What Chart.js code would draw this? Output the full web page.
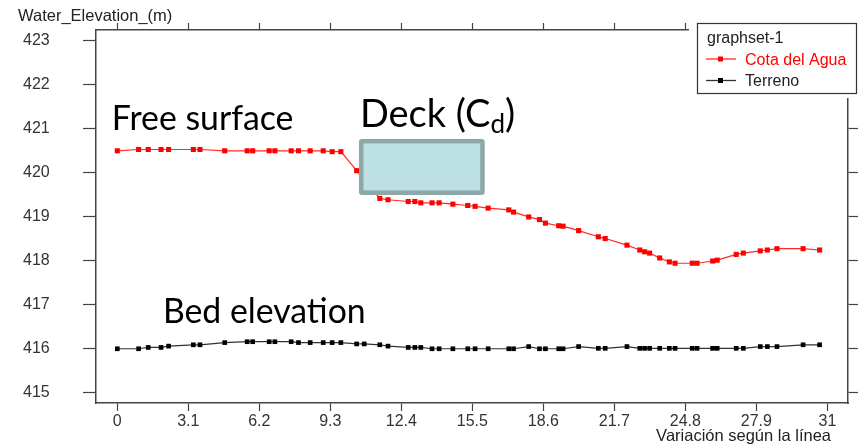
<!DOCTYPE html>
<html>
<head>
<meta charset="utf-8">
<script src="https://cdn.jsdelivr.net/npm/chart.js@4"></script>
<style>
  html, body { margin: 0; padding: 0; background: #fff; }
  canvas { display: block; }
</style>
</head>
<body>
<canvas id="chart" width="858" height="446"></canvas>
<script>
// distance along the line (m)
const stations = [0, 0.93, 1.35, 1.91, 2.24, 3.32, 3.61, 4.69, 5.67, 5.91, 6.63, 6.88, 7.59, 7.91, 8.42, 8.99, 9.38, 9.76,
  10.45, 10.78, 11.46, 11.82, 12.7, 12.99, 13.25, 13.74, 14.05, 14.65, 15.3, 15.62, 16.19, 17.09, 17.3, 17.96, 18.43, 18.69,
  19.27, 19.46, 20.14, 21.0, 21.3, 22.25, 22.81, 23.02, 23.24, 23.68, 24.1, 24.35, 25.1, 25.31, 25.99, 26.19, 27.02, 27.33,
  28.07, 28.38, 28.8, 29.94, 30.66];

// water surface (null = hidden under the deck)
const cotaAgua = [420.49, 420.52, 420.52, 420.52, 420.52, 420.52, 420.52, 420.49, 420.49, 420.49, 420.49, 420.49, 420.49, 420.49, 420.49, 420.49, 420.47, 420.47,
  420.04, null, 419.41, 419.38, 419.34, 419.34, 419.31, 419.31, 419.31, 419.28, 419.25, 419.23, 419.19, 419.15, 419.10, 418.99, 418.93, 418.85,
  418.79, 418.78, 418.68, 418.54, 418.50, 418.35, 418.24, 418.20, 418.17, 418.06, 417.97, 417.94, 417.94, 417.94, 417.99, 418.01, 418.14, 418.17,
  418.22, 418.24, 418.27, 418.27, 418.24];

// bed
const terreno = [416.00, 416.00, 416.03, 416.03, 416.06, 416.09, 416.09, 416.14, 416.16, 416.16, 416.16, 416.16, 416.16, 416.14, 416.14, 416.14, 416.14, 416.14,
  416.11, 416.11, 416.09, 416.06, 416.03, 416.03, 416.03, 416.00, 416.00, 416.00, 416.00, 416.00, 416.00, 416.00, 416.00, 416.05, 416.00, 416.00,
  416.00, 416.00, 416.05, 416.01, 416.01, 416.05, 416.01, 416.01, 416.01, 416.01, 416.01, 416.01, 416.01, 416.01, 416.01, 416.01, 416.01, 416.01,
  416.05, 416.05, 416.05, 416.09, 416.09];

const xTicks = [0, 3.1, 6.2, 9.3, 12.4, 15.5, 18.6, 21.7, 24.8, 27.9, 31];
const yTicks = [415, 416, 417, 418, 419, 420, 421, 422, 423];

const legendTitle = "graphset-1";
const yTitle = "Water_Elevation_(m)";
const xTitle = "Variación según la línea";

// labels drawn on the plot, in data units
const notes = [
  { text: "Free surface", x: -0.24, y: 420.96 },
  { text: "Bed elevation", x: 1.99, y: 416.59 },
];
const deckLabel = { text: "Deck (C", sub: "d", after: ")", x: 10.59, y: 421.04 };
const deck = { x0: 10.55, x1: 16.04, top: 420.76, bottom: 419.49 };

const tickFont = { family: "Liberation Sans, Arial, sans-serif", size: 16 };
const frameColor = "#444";

function toPoints(values) {
  return stations.map((s, i) => ({ x: s, y: values[i] }));
}

// one side of the box frame
function frameAxis(axis, position, tickLength, size, showLabels, ticks) {
  return {
    type: "linear",
    axis: axis,
    position: position,
    min: axis === "x" ? -0.93 : 414.77,
    max: axis === "x" ? 31.9 : 423.23,
    afterBuildTicks: a => { a.ticks = ticks.map(v => ({ value: v })); },
    afterFit: a => { if (axis === "x") a.height = size; else a.width = size; },
    grid: { drawOnChartArea: false, drawTicks: true, tickLength: tickLength, color: frameColor, tickWidth: 1.2 },
    border: { display: true, color: frameColor, width: 1.5 },
    ticks: {
      display: showLabels,
      font: tickFont,
      color: "#333",
      padding: 1,
      crossAlign: axis === "y" ? "far" : "near",
      autoSkip: false,
      maxRotation: 0,
      callback: v => String(v),
    },
  };
}

const overlay = {
  id: "overlay",
  afterDatasetsDraw(chart) {
    const c = chart.ctx, xs = chart.scales.x, ys = chart.scales.y;
    const l = xs.getPixelForValue(deck.x0), r = xs.getPixelForValue(deck.x1);
    const t = ys.getPixelForValue(deck.top), b = ys.getPixelForValue(deck.bottom);
    c.save();
    c.fillStyle = "#8ea8a9";
    c.beginPath();
    c.roundRect(l, t, r - l, b - t, 3);
    c.fill();
    c.fillStyle = "#bde0e3";
    c.fillRect(l + 4.5, t + 4.5, r - l - 9, b - t - 9);
    c.restore();
  },
  afterDraw(chart) {
    const c = chart.ctx, xs = chart.scales.x, ys = chart.scales.y;
    c.save();

    // notes on the plot
    c.fillStyle = "#000";
    c.textBaseline = "alphabetic";
    c.textAlign = "left";
    c.font = "33.8px Lato";
    notes.forEach(n => c.fillText(n.text, xs.getPixelForValue(n.x), ys.getPixelForValue(n.y)));
    let dx = xs.getPixelForValue(deckLabel.x), dy = ys.getPixelForValue(deckLabel.y);
    c.font = "38px Lato";
    c.fillText(deckLabel.text, dx, dy);
    dx += c.measureText(deckLabel.text).width;
    c.font = "26px Lato";
    c.fillText(deckLabel.sub, dx, dy + 6);
    dx += c.measureText(deckLabel.sub).width;
    c.font = "38px Lato";
    c.fillText(deckLabel.after, dx, dy);

    // axis titles
    c.fillStyle = "#222";
    c.font = "16.5px Liberation Sans";
    c.fillText(yTitle, 18, 21);
    c.textAlign = "right";
    c.fillText(xTitle, 831, 441);

    // legend box, covers the frame corner
    c.fillStyle = "#fff";
    c.fillRect(689, 0, 169, 98);
    c.strokeStyle = "#333";
    c.lineWidth = 1.2;
    c.strokeRect(697.5, 23.5, 159, 70);
    c.textAlign = "left";
    c.fillStyle = "#222";
    c.font = "16px Liberation Sans";
    c.fillText(legendTitle, 707, 43);
    chart.data.datasets.forEach((ds, i) => {
      const y = 59 + i * 21.5;
      c.strokeStyle = ds.borderColor;
      c.lineWidth = 1.3;
      c.beginPath();
      c.moveTo(706, y);
      c.lineTo(736, y);
      c.stroke();
      c.fillStyle = ds.pointBackgroundColor;
      c.fillRect(718, y - 2.5, 5, 5);
      c.fillStyle = ds.legendText;
      c.fillText(ds.label, 745, y + 5.5);
    });
    c.restore();
  },
};

const chart = new Chart(document.getElementById("chart"), {
  type: "line",
  data: {
    datasets: [
      {
        label: "Cota del Agua",
        data: toPoints(cotaAgua),
        borderColor: "#ff2a2a",
        borderWidth: 1.2,
        pointStyle: "rect",
        pointRadius: 3.6,
        pointBorderWidth: 0,
        pointBackgroundColor: "#ff0000",
        legendText: "#ff0000",
        spanGaps: true,
        tension: 0,
      },
      {
        label: "Terreno",
        data: toPoints(terreno),
        borderColor: "#333",
        borderWidth: 1.2,
        pointStyle: "rect",
        pointRadius: 3.3,
        pointBorderWidth: 0,
        pointBackgroundColor: "#000",
        legendText: "#222",
        tension: 0,
      },
    ],
  },
  options: {
    responsive: false,
    animation: false,
    layout: { padding: { left: 23, top: 0, right: 0, bottom: 0 } },
    plugins: { legend: { display: false }, tooltip: { enabled: false } },
    scales: {
      x: frameAxis("x", "bottom", 8, 43, true, xTicks),
      xTop: frameAxis("x", "top", 7, 30, false, xTicks),
      y: frameAxis("y", "left", 13, 73, true, yTicks),
      yRight: frameAxis("y", "right", 10, 10, false, yTicks),
    },
  },
  plugins: [overlay],
});
</script>
</body>
</html>
